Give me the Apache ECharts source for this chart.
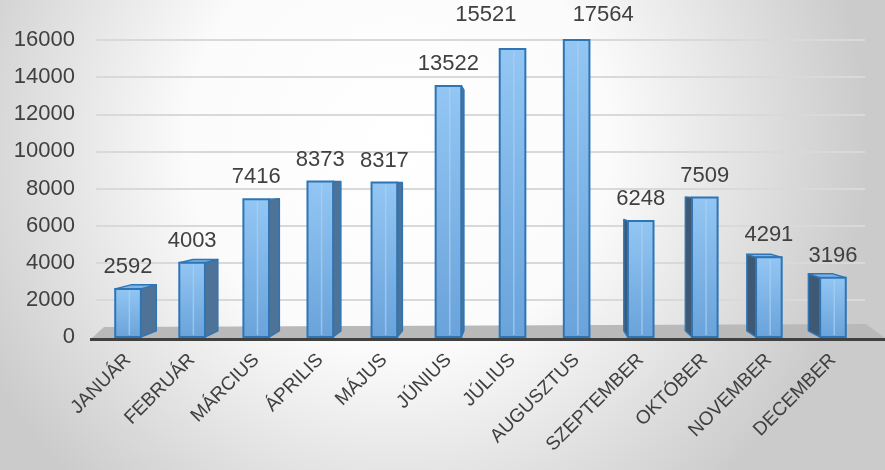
<!DOCTYPE html>
<html>
<head>
<meta charset="utf-8">
<script src="https://cdn.jsdelivr.net/npm/echarts@6/dist/echarts.min.js"></script>
<style>
  html, body { margin: 0; padding: 0; }
  #chart { width: 885px; height: 470px; }
</style>
</head>
<body>
<div id="chart"></div>
<script>
var months = ['JANUÁR', 'FEBRUÁR', 'MÁRCIUS', 'ÁPRILIS', 'MÁJUS', 'JÚNIUS',
              'JÚLIUS', 'AUGUSZTUS', 'SZEPTEMBER', 'OKTÓBER', 'NOVEMBER', 'DECEMBER']
var visitors = [2592, 4003, 7416, 8373, 8317, 13522, 15521, 17564, 6248, 7509, 4291, 3196]
var yMax = 16000
var yStep = 2000

var textCol = '#404040'
var fontFam = '"Liberation Sans", Arial, sans-serif'

// 3d-ish bar: front face + visible side + top, clipped at the axis max like excel does
function renderBar(params, api) {
    var cs = params.coordSys
    var idx = api.value(0)
    var val = api.value(1)
    var base = api.coord([idx, 0])
    var topPt = api.coord([idx, val])
    var bw = api.size([1, 0])[0] * 0.4
    var x0 = base[0] - bw / 2, x1 = base[0] + bw / 2
    var yb = base[1]
    var yt = Math.max(topPt[1], cs.y)
    var vx = cs.x + cs.width * 0.56
    var vy = cs.y + cs.height * 0.48
    var k = 0.04
    function back(p) { return [p[0] + (vx - p[0]) * k, p[1] + (vy - p[1]) * k] }

    var children = []
    var edge = '#2e75b6'
    if ((vx - x1) * k > 2.5) {
        children.push({type: 'polygon', shape: {points: [[x1, yt], [x1, yb], back([x1, yb]), back([x1, yt])]},
            style: {fill: '#4f7396', stroke: edge, lineWidth: 1.5, lineJoin: 'round'}})
    } else if ((x0 - vx) * k > 2.5) {
        children.push({type: 'polygon', shape: {points: [[x0, yt], [x0, yb], back([x0, yb]), back([x0, yt])]},
            style: {fill: '#3f5873', stroke: edge, lineWidth: 1.5, lineJoin: 'round'}})
    }
    if ((yt - vy) * k > 2) {
        children.push({type: 'polygon', shape: {points: [[x0, yt], [x1, yt], back([x1, yt]), back([x0, yt])]},
            style: {fill: '#7fb4e6', stroke: edge, lineWidth: 1.5, lineJoin: 'round'}})
    }
    children.push({type: 'rect', shape: {x: x0, y: yt, width: bw, height: yb - yt},
        style: {
            fill: {type: 'linear', x: 0, y: 0, x2: 0, y2: 1, colorStops: [
                {offset: 0, color: '#93c6f3'}, {offset: 1, color: '#6aa3da'}]},
            stroke: edge, lineWidth: 2
        }})
    children.push({type: 'line', shape: {x1: x0 + bw * 0.55, y1: yt + 2, x2: x0 + bw * 0.55, y2: yb - 2},
        style: {stroke: 'rgba(170,210,245,0.7)', lineWidth: 1.5}})

    // label: clipped bar and the one before it get pushed apart, as in the original
    var lx = base[0], ly = yt - 11, align = 'center'
    if (val > yMax) {
        align = 'left'; lx = base[0] - 4; ly = cs.y - 14
    } else if (visitors[idx + 1] > yMax) {
        align = 'right'; lx = base[0] + 4; ly = cs.y - 14
    }
    children.push({type: 'text', x: lx, y: ly,
        style: {text: String(val), align: align, verticalAlign: 'bottom',
                fill: textCol, font: '22px ' + fontFam}})
    return {type: 'group', children: children}
}

var chart = echarts.init(document.getElementById('chart'))
chart.setOption({
    backgroundColor: {
        type: 'radial', x: 0.45, y: 0.3, r: 1.0,
        colorStops: [{offset: 0, color: '#ffffff'}, {offset: 0.45, color: '#fbfbfb'}, {offset: 1, color: '#cbcbcb'}]
    },
    animation: false,
    grid: {left: 96, right: 20, top: 40, bottom: 133},
    xAxis: {
        type: 'category',
        data: months,
        axisLine: {show: false},
        axisTick: {show: false},
        axisLabel: {rotate: 45, fontSize: 19, color: textCol, fontFamily: fontFam, margin: 20, interval: 0}
    },
    yAxis: {
        type: 'value',
        min: 0,
        max: yMax,
        interval: yStep,
        axisLine: {show: false},
        axisTick: {show: false},
        axisLabel: {fontSize: 22, color: textCol, fontFamily: fontFam, margin: 21,
                    formatter: function (v) { return String(v) }},
        splitLine: {lineStyle: {color: '#d9d9d9', width: 2}}
    },
    graphic: [
        {type: 'polygon', z: 1, shape: {points: [[92, 338], [104, 327], [866, 324], [885, 338]]},
         style: {fill: '#b9b9b9'}},
        {type: 'rect', z: 1, shape: {x: 90, y: 338, width: 795, height: 3}, style: {fill: '#404040'}}
    ],
    series: [{
        type: 'custom',
        z: 3,
        renderItem: renderBar,
        encode: {x: 0, y: 1},
        data: visitors.map(function (v, i) { return [i, v] })
    }]
})
</script>
</body>
</html>
